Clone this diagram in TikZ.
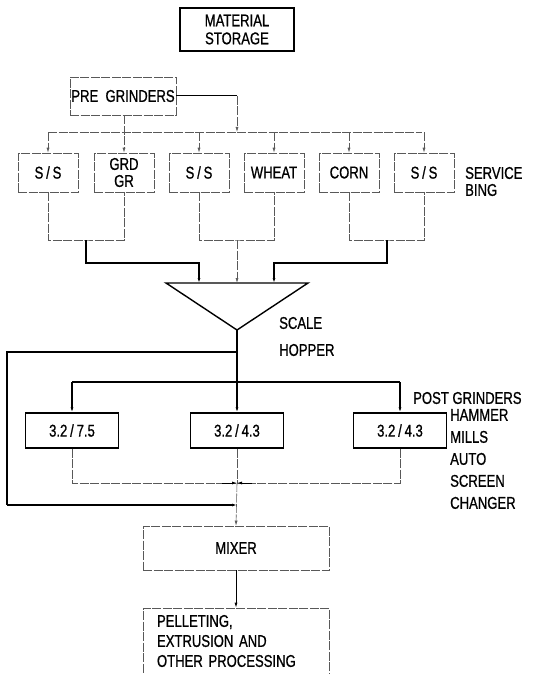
\documentclass[tikz,border=0pt]{standalone}
\usepackage{fontspec}
\setmainfont{Liberation Sans}[FakeStretch=0.77, FakeBold=0.8]
\usetikzlibrary{arrows.meta, positioning}
\tikzset{
    solidBox/.style={draw=black, line width=1.4pt, inner sep=0pt, align=center},
    faintBox/.style={draw=black!65, line width=0.6pt, dash pattern=on 9pt off 1.5pt, inner sep=0pt, align=center},
    binBox/.style={faintBox, minimum width=60pt, minimum height=39pt},
    millBox/.style={solidBox, minimum width=93pt, minimum height=35pt},
    flowLine/.style={line width=1.4pt},
    faintLine/.style={draw=black!65, line width=0.6pt, dash pattern=on 9pt off 1.5pt},
    sideLabel/.style={anchor=west, align=left, inner sep=0pt}
}

\begin{document}
\begin{tikzpicture}[x=1pt, y=-1pt, >={Latex[length=5pt, width=3pt]},
    font=\fontsize{17}{18}\selectfont]
    \useasboundingbox (0,0) rectangle (535,674);

    \node[solidBox, minimum width=114pt, minimum height=43pt] (Storage) at (237,29.5) {MATERIAL\\STORAGE};
    \node[faintBox, minimum width=106pt, minimum height=38pt] (PreGrind) at (123,96) {PRE\ \ GRINDERS};

    % service bins
    \foreach \x/\name/\txt in {48/BinA/{S\,/\,S}, 124/BinB/{GRD\\[-1pt]GR}, 199/BinC/{S\,/\,S},
                               274/BinD/WHEAT, 349/BinE/CORN, 424/BinF/{S\,/\,S}}
        \node[binBox] (\name) at (\x,172.5) {\txt};
    \node[sideLabel, font=\fontsize{17}{17}\selectfont] (BinLabel) at (465,181.5) {SERVICE\\BING};

    \coordinate (PreEnd) at (237,96);
    \coordinate (HeadL) at (48,132);  \coordinate (HeadR) at (422,132);
    \draw[flowLine, line width=1pt] (PreGrind.east) -- (PreEnd);
    \draw[faintLine, ->] (PreEnd) -- (237,132);
    \draw[faintLine] (HeadL) -- (HeadR);
    \foreach \name in {BinA, BinC, BinD, BinE, BinF}
        \draw[faintLine, ->] (\name.north |- HeadL) -- (\name.north);
    \draw[faintLine, ->] (PreGrind.south -| BinB.north) -- (BinB.north);

    % collectors under bins
    \coordinate (ColA) at (86,240);  \coordinate (ColB) at (237,240);  \coordinate (ColC) at (387,240);
    \draw[faintLine] (BinA.south) |- (ColA) -| (BinB.south);
    \draw[faintLine] (BinC.south) |- (ColB) -| (BinD.south);
    \draw[faintLine] (BinE.south) |- (ColC) -| (BinF.south);

    % scale hopper
    \coordinate (HopL) at (166,283);  \coordinate (HopR) at (308,283);  \coordinate (HopApex) at (237,330);
    \draw[flowLine] (HopL) -- (HopR) -- (HopApex) -- cycle;
    \node[sideLabel, font=\fontsize{17}{27}\selectfont] (HopLabel) at (279,336.5) {SCALE\\HOPPER};
    \draw[flowLine, ->] (ColA) -- (86,263) -| (199,283);
    \draw[flowLine, ->] (ColC) -- (387,263) -| (274,283);
    \draw[faintLine, ->] (ColB) -- (ColB |- HopL);

    % post grinders
    \foreach \x/\name/\txt in {72/MillA/{3.2\,/\,7.5}, 237/MillB/{3.2\,/\,4.3}, 400/MillC/{3.2\,/\,4.3}}
        \node[millBox] (\name) at (\x,430.5) {\txt};
    \coordinate (Split) at (237,382);  \coordinate (Bypass) at (237,352);
    \draw[flowLine] (HopApex) -- (Split);
    \draw[flowLine] (MillA.north |- Split) -- (MillC.north |- Split);
    \foreach \name in {MillA, MillB, MillC}
        \draw[flowLine, ->] (\name.north |- Split) -- (\name.north);
    \node[sideLabel] (PostLabel) at (413,398) {POST GRINDERS};
    \node[sideLabel, font=\fontsize{17}{22}\selectfont] (MillLabel) at (450,459) {HAMMER\\MILLS\\AUTO\\SCREEN\\CHANGER};

    % mixer and processing
    \node[faintBox, minimum width=186pt, minimum height=44pt] (Mixer) at (236,548) {MIXER};
    \node[faintBox, minimum width=186pt, minimum height=66pt, text width=158pt, align=left,
          font=\fontsize{17}{20}\selectfont] (Pellet) at (236,641) {PELLETING,\\EXTRUSION AND\\OTHER PROCESSING};

    \coordinate (Merge) at (237,483);  \coordinate (Return) at (237,505);
    \draw[faintLine] (MillA.south) |- (Merge);
    \draw[faintLine] (MillC.south) |- (Merge);
    \draw[faintLine] (MillB.south) -- (Merge);
    \draw[flowLine, line width=0.8pt, ->] (222,483) -- (Merge);
    \draw[flowLine, line width=0.8pt, ->] (252,483) -- (Merge);
    \draw[flowLine] (Bypass) -- (7,352) -- (7,505);
    \draw[flowLine, ->] (7,505) -- (Return);
    \draw[faintLine, ->] (Merge) -- (Mixer.north);
    \draw[line width=0.8pt, ->] (Mixer.south) -- (Pellet.north);
\end{tikzpicture}
\end{document}
